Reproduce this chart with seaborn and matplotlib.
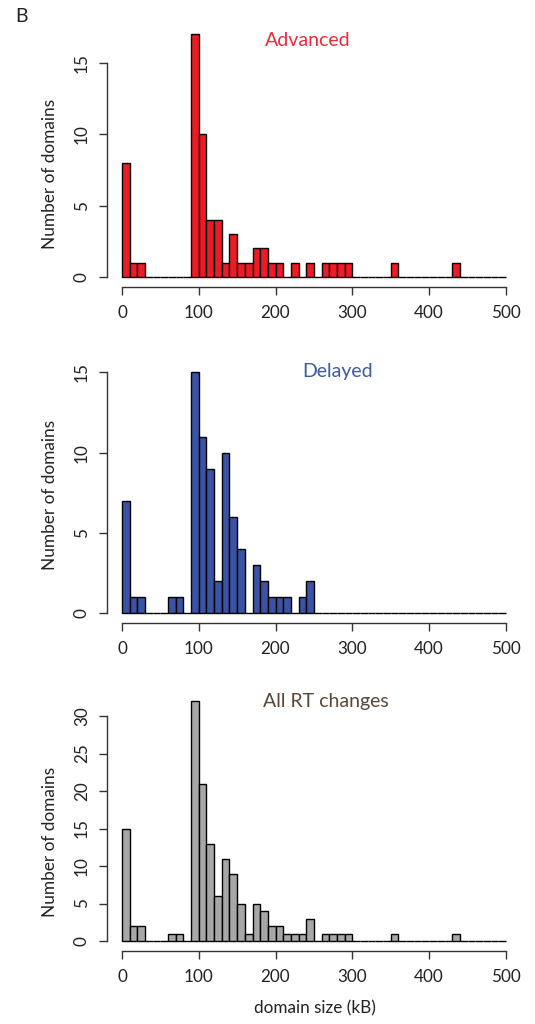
import numpy as np
import pandas as pd
import matplotlib
matplotlib.use("Agg")
import matplotlib.pyplot as plt
import seaborn as sns

# ---- data (10 kB bins from 0 to 500) ----
bin_starts = list(range(0, 500, 10))
advanced = [8, 1, 1, 0, 0, 0, 0, 0, 0, 17,
            10, 4, 4, 1, 3, 1, 1, 2, 2, 1,
            1, 0, 1, 0, 1, 0, 1, 1, 1, 1,
            0, 0, 0, 0, 0, 1, 0, 0, 0, 0,
            0, 0, 0, 1, 0, 0, 0, 0, 0, 0]
delayed = [7, 1, 1, 0, 0, 0, 1, 1, 0, 15,
           11, 9, 2, 10, 6, 4, 0, 3, 2, 1,
           1, 1, 0, 1, 2, 0, 0, 0, 0, 0,
           0, 0, 0, 0, 0, 0, 0, 0, 0, 0,
           0, 0, 0, 0, 0, 0, 0, 0, 0, 0]
all_rt = [15, 2, 2, 0, 0, 0, 1, 1, 0, 32,
          21, 13, 6, 11, 9, 5, 1, 5, 4, 2,
          2, 1, 1, 1, 3, 0, 1, 1, 1, 1,
          0, 0, 0, 0, 0, 1, 0, 0, 0, 0,
          0, 0, 0, 1, 0, 0, 0, 0, 0, 0]
titles = ["Advanced", "Delayed", "All RT changes"]
yticks_list = [[0, 5, 10, 15], [0, 5, 10, 15], [0, 5, 10, 15, 20, 25, 30]]
xticks = [0, 100, 200, 300, 400, 500]

fill_colors = ["#ED1C24", "#3A53A4", "#A7A7A7"]
title_colors = ["#EE2B38", "#3D59A8", "#5A4636"]

sns.set_style("ticks")
plt.rcParams["font.family"] = ["Lato", "DejaVu Sans"]

W, H = 535, 1024
fig = plt.figure(figsize=(W / 100, H / 100), dpi=100)

# axes boxes in pixel coords: (top, bottom)
boxes = [(24.7, 286.7), (362.6, 623.0), (691.4, 950.6)]
left_px, width_px = 106.6, 414.7
title_pos = [(308, 40), (338, 372), (326, 702)]
ylabel_y = [0.43, 0.49, 0.42]

for i, (counts, (top, bot)) in enumerate(zip([advanced, delayed, all_rt], boxes)):
    ax = fig.add_axes([left_px / W, 1 - bot / H, width_px / W, (bot - top) / H])
    df = pd.DataFrame({"x": np.array(bin_starts, dtype=float) + 5,
                       "w": np.array(counts, dtype=float)})
    sns.histplot(data=df, x="x", weights="w", binwidth=10, binrange=(0, 500), ax=ax,
                 color=fill_colors[i], edgecolor="black", linewidth=1.0,
                 alpha=1, stat="count")
    ymax = max(counts)
    ax.set_xlim(-20, 520)
    ax.set_ylim(-0.04 * ymax, ymax * 1.04)
    ax.set_xticks(xticks)
    ax.set_yticks(yticks_list[i])
    ax.set_yticklabels([str(v) for v in yticks_list[i]], rotation=90, va="center")
    ax.tick_params(axis="both", labelsize=12.3, length=6, width=1, color="#333333",
                   labelcolor="#222222")
    ax.tick_params(axis="y", pad=6)
    ax.tick_params(axis="x", pad=7)
    sns.despine(ax=ax)
    ax.spines["left"].set_bounds(0, yticks_list[i][-1])
    ax.spines["bottom"].set_bounds(0, 500)
    for s in ("left", "bottom"):
        ax.spines[s].set_linewidth(1)
        ax.spines[s].set_color("#333333")
    ax.set_ylabel("Number of domains", fontsize=12.4, color="#222222")
    ax.yaxis.set_label_coords(-0.117, ylabel_y[i])
    if i == 2:
        ax.set_xlabel("domain size (kB)", fontsize=12.3, color="#222222")
        ax.xaxis.set_label_coords((315 - left_px) / width_px, -(1000 - bot) / (bot - top))
    else:
        ax.set_xlabel("")
    tx, ty = title_pos[i]
    fig.text(tx / W, 1 - ty / H, titles[i], color=title_colors[i], fontsize=14,
             ha="center", va="center")

fig.text(15 / W, 1 - 16 / H, "B", fontsize=14, ha="left", va="center", color="#222222")

fig.savefig("out.png", dpi=100)
